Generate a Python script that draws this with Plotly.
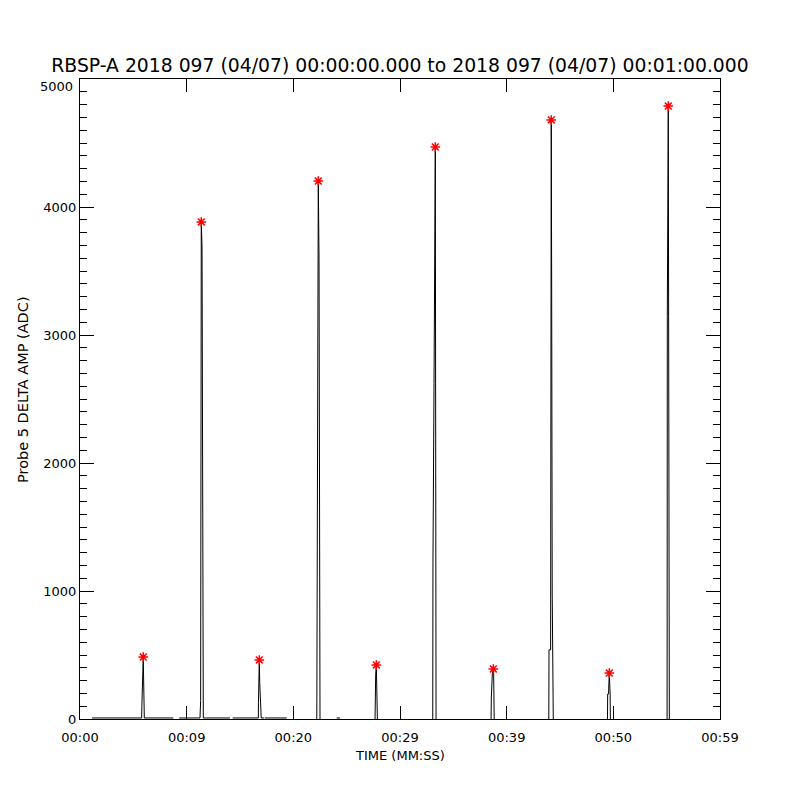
import plotly.graph_objects as go

# ---- data (seconds from 00:00:00, ADC counts); None marks data gaps ----
time_s = [1.13, 5.78, 5.80, 5.86, 5.93, 5.96, 6.00, 6.03, 8.75, None,
          9.30, 11.25, 11.31, 11.34, 11.37, 11.44, 11.56, 11.88, 14.06, None,
          14.31, 16.72, 16.73, 16.81, 16.85, 16.97, 16.99, 17.28, None,
          17.34, 19.38, None,
          22.20, 22.25, 22.34, 22.41, 22.50, None,
          24.06, 24.38, None,
          27.66, 27.68, 27.72, 27.78, 27.85, 27.88, None,
          33.07, 33.09, 33.19, 33.31, 33.38, None,
          38.54, 38.56, 38.66, 38.75, 38.78, 38.81, 38.83, None,
          43.95, 43.97, 44.12, 44.18, 44.22, 44.27, 44.37, None,
          49.45, 49.47, 49.55, 49.62, 49.70, 49.72, None,
          55.04, 55.06, 55.15, 55.18, 55.25]
amp = [8, 8, 100, 340, 484, 336, 70, 8, 8, None,
       8, 8, 143, 1800, 3883, 3690, 8, 8, 8, None,
       8, 8, 127, 461, 284, 47, 8, 8, None,
       8, 8, None,
       0, 2350, 4203, 3580, 0, None,
       8, 8, None,
       0, 344, 344, 422, 242, 0, None,
       0, 1220, 2620, 4469, 0, None,
       0, 164, 359, 391, 359, 16, 0, None,
       0, 540, 540, 4680, 3320, 984, 0, None,
       0, 195, 195, 359, 195, 0, None,
       0, 3143, 4789, 3143, 0]

peak_t = [5.93, 11.37, 16.81, 22.34, 27.78, 33.31, 38.75, 44.18, 49.62, 55.15]
peak_v = [484, 3883, 461, 4203, 422, 4469, 391, 4680, 359, 4789]

x_tickvals = [0, 10, 20, 30, 40, 50, 60]
x_ticktext = ["00:00", "00:09", "00:20", "00:29", "00:39", "00:50", "00:59"]
y_tickvals = [0, 1000, 2000, 3000, 4000, 5000]
y_ticktext = ["0", "1000", "2000", "3000", "4000", ""]  # top label drawn below the frame, as in the original
y_top_label = "5000"

title_text = "RBSP-A 2018 097 (04/07) 00:00:00.000 to 2018 097 (04/07) 00:01:00.000"
x_title = "TIME (MM:SS)"
y_title = "Probe 5 DELTA AMP (ADC)"

FONT = "DejaVu Sans, sans-serif"
OFF = 8  # page body margin offset
L, T, W, H = 80 - OFF, 79 - OFF, 640, 640

fig = go.Figure()
fig.add_trace(go.Scatter(x=time_s, y=amp, mode="lines",
                         line=dict(color="black", width=1),
                         connectgaps=False, hoverinfo="skip"))
fig.add_trace(go.Scatter(x=peak_t, y=peak_v, mode="markers",
                         marker=dict(symbol="asterisk-open", size=8,
                                     color="red",
                                     line=dict(color="red", width=1.5))))

fig.update_layout(
    width=800, height=800,
    margin=dict(l=L, r=800 - L - W, t=T, b=800 - T - H),
    paper_bgcolor="white", plot_bgcolor="white",
    showlegend=False,
    font=dict(family=FONT, color="black", size=13),
    title=dict(text=title_text, x=(400 - OFF) / 800, xanchor="center",
               y=1 - (65 - OFF) / 800, yanchor="middle", yref="container",
               font=dict(family=FONT, size=18.8, color="black")),
)
fig.update_xaxes(
    range=[0, 60], tickmode="array", tickvals=x_tickvals, ticktext=x_ticktext,
    ticks="inside", ticklen=13, tickcolor="black", tickwidth=1,
    showline=True, linecolor="black", linewidth=1, mirror="ticks",
    showgrid=False, zeroline=False, automargin=False,
    ticklabelstandoff=6,
    tickfont=dict(family=FONT, size=13, color="black"),
)
fig.update_yaxes(
    range=[0, 5000], tickmode="array", tickvals=y_tickvals, ticktext=y_ticktext,
    ticks="inside", ticklen=14, tickcolor="black", tickwidth=1,
    minor=dict(ticks="inside", dtick=100, ticklen=7, tickcolor="black", tickwidth=1, showgrid=False),
    showline=True, linecolor="black", linewidth=1, mirror="ticks",
    showgrid=False, zeroline=False, automargin=False,
    tickfont=dict(family=FONT, size=13, color="black"),
)

def px_x(page_x):
    return (page_x - OFF - L) / W

def px_y(page_y):
    return 1 - (page_y - OFF - T) / H

fig.add_annotation(text=y_top_label, xref="paper", yref="paper",
                   x=px_x(75), y=px_y(86), xanchor="right", yanchor="middle",
                   showarrow=False, font=dict(family=FONT, size=13, color="black"))
fig.add_annotation(text=x_title, xref="paper", yref="paper",
                   x=px_x(400), y=px_y(755), xanchor="center", yanchor="middle",
                   showarrow=False, font=dict(family=FONT, size=13, color="black"))
fig.add_annotation(text=y_title, xref="paper", yref="paper", textangle=-90,
                   x=px_x(23), y=px_y(390), xanchor="center", yanchor="middle",
                   showarrow=False, font=dict(family=FONT, size=14.5, color="black"))

fig.write_html("out.html")
